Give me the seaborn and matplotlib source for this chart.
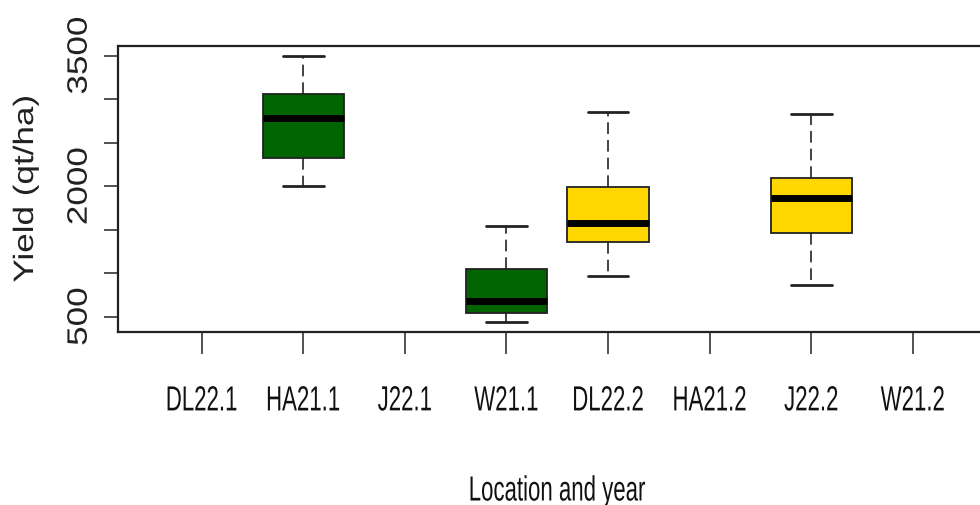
import numpy as np
import pandas as pd
import matplotlib
matplotlib.use("Agg")
import matplotlib.pyplot as plt
import seaborn as sns
from matplotlib.patheffects import AbstractPathEffect
from matplotlib.transforms import Affine2D

# ---- data ----
categories = ["DL22.1", "HA21.1", "J22.1", "W21.1", "DL22.2", "HA21.2", "J22.2", "W21.2"]
box_groups = ["HA21.1", "W21.1", "DL22.2", "J22.2"]
mins    = [2000, 443, 968, 864]
q1s     = [2324, 546, 1359, 1466]
medians = [2780, 680, 1574, 1861]
q3s     = [3063, 1048, 1987, 2094]
maxs    = [3493, 1543, 2853, 2830]
box_colors = ["#006400", "#006400", "#FFD700", "#FFD700"]
ytick_values = [500, 1000, 1500, 2000, 2500, 3000, 3500]
ytick_labels = ["500", "", "", "2000", "", "", "3500"]

rows = []
for g, a, b, c, d, e in zip(box_groups, mins, q1s, medians, q3s, maxs):
    for v in (a, b, c, d, e):
        rows.append({"Location": g, "Yield": v})
df = pd.DataFrame(rows)
palette = dict(zip(box_groups, box_colors))


class Stretch(AbstractPathEffect):
    """Scale glyphs (in the text's own frame) about the centre of the glyph run."""
    def __init__(self, sx=1.0, sy=1.0):
        super().__init__()
        self.sx, self.sy = sx, sy

    def draw_path(self, renderer, gc, tpath, affine, rgbFace=None):
        ext = tpath.get_extents()
        cx = (ext.x0 + ext.x1) / 2
        cy = (ext.y0 + ext.y1) / 2
        pre = Affine2D().translate(-cx, -cy).scale(self.sx, self.sy).translate(cx, cy)
        renderer.draw_path(gc, tpath, pre + affine, rgbFace)


sns.set_style("white")
FONT = ["Liberation Sans", "DejaVu Sans"]

fig = plt.figure(figsize=(9.8, 5.06), dpi=100)
ax = fig.add_axes([0.1201, 0.342, 0.8971, 0.5652])

sns.boxplot(data=df, x="Location", y="Yield", hue="Location", order=categories,
            hue_order=box_groups, palette=palette, saturation=1, legend=False,
            width=0.8, whis=(0, 100), linecolor="#222222", linewidth=1.2, ax=ax,
            boxprops=dict(edgecolor="#222222", linewidth=1.3),
            medianprops=dict(color="black", linewidth=5, solid_capstyle="butt"),
            whiskerprops=dict(color="#222222", linewidth=1.2, linestyle=(0, (7, 3.6))),
            capprops=dict(color="#222222", linewidth=2))

ax.set_xlim(0.173 - 1, 8.827 - 1)
ax.set_ylim(324, 3611)

ax.set_yticks(ytick_values)
ax.set_yticklabels(ytick_labels, rotation=90, va="center", fontsize=20.2,
                   family=FONT, color="#222222")
ax.set_xticks(range(len(categories)))
ax.set_xticklabels(categories, fontsize=16, family=FONT, color="#111111")

ax.tick_params(axis="x", length=15.8, width=1.1, color="#222222", pad=26, bottom=True)
ax.tick_params(axis="y", length=10, width=1.1, color="#222222", pad=8, left=True)

ystretch = Stretch(sx=1.25)
xstretch = Stretch(sy=1.57)
for t in ax.get_yticklabels():
    t.set_path_effects([ystretch])
for t in ax.get_xticklabels():
    t.set_path_effects([xstretch])

for s in ax.spines.values():
    s.set_visible(True)
    s.set_color("#222222")
    s.set_linewidth(1.6)

ax.set_xlabel("Location and year", fontsize=16, family=FONT, color="#111111",
              path_effects=[xstretch])
ax.xaxis.set_label_coords(0.5, -0.522)
ax.xaxis.label.set_va("top")
ax.set_ylabel("Yield (qt/ha)", fontsize=20.2, family=FONT, color="#222222",
              path_effects=[ystretch])
ax.yaxis.set_label_coords(-0.0895, 0.5)

fig.savefig("out.png", dpi=100)
